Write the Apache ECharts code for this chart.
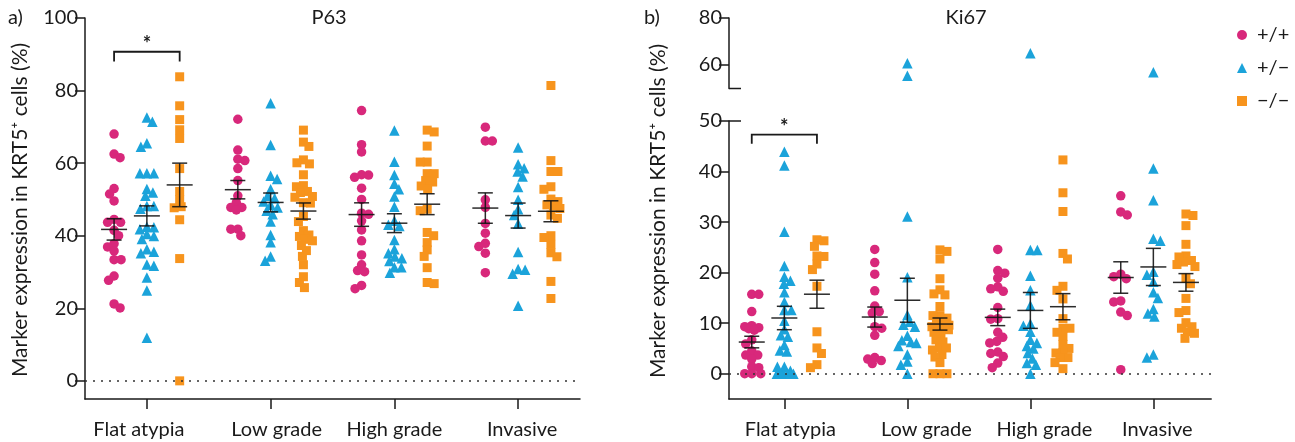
<!DOCTYPE html>
<html><head><meta charset="utf-8">
<script src="https://cdn.jsdelivr.net/npm/echarts@6/dist/echarts.min.js"></script>
<style>html,body{margin:0;padding:0;background:#fff}#c{width:1295px;height:442px}</style>
</head><body><div id="c"></div>
<script>
// ---------- DATA ----------
const categories = ['Flat atypia', 'Low grade', 'High grade', 'Invasive'];
const genotypes = ['+/+', '+/\u2212', '\u2212/\u2212'];
const panelTitles = ['P63', 'Ki67'];
const panelLetters = ['a)', 'b)'];
const yAxisTitle = 'Marker expression in KRT5\u207A cells (%)';
const p63Ticks = [0, 20, 40, 60, 80, 100];
const ki67LowTicks = [0, 10, 20, 30, 40, 50];
const ki67HighTicks = [60, 80];

// P63 values per category (Flat atypia, Low grade, High grade, Invasive)
const p63PP = [
  [68.0, 62.5, 61.5, 53.0, 51.5, 49.6, 44.5, 43.7, 43.7, 41.5, 40.0, 37.8, 36.9, 35.8, 33.4, 33.4, 28.9, 27.7, 21.2, 20.1],
  [72.1, 63.6, 61.1, 60.7, 58.5, 55.2, 51.0, 49.1, 47.8, 47.8, 47.1, 41.8, 41.8, 40.0],
  [74.5, 65.1, 63.1, 56.8, 56.7, 56.1, 53.1, 50.0, 46.2, 45.9, 44.1, 41.6, 38.6, 34.7, 32.0, 30.4, 30.1, 26.3, 25.4],
  [69.9, 66.1, 66.1, 49.9, 47.8, 43.4, 40.7, 37.9, 37.0, 35.2, 29.8]
];
const p63PM = [
  [72.6, 71.4, 65.5, 64.5, 57.2, 57.2, 57.2, 52.9, 51.9, 51.0, 48.2, 48.2, 47.4, 42.5, 42.3, 41.8, 40.5, 39.9, 39.1, 36.3, 35.6, 35.2, 32.1, 31.7, 28.5, 24.9, 11.9],
  [76.5, 65.0, 56.5, 55.6, 52.8, 51.0, 50.3, 49.4, 48.5, 47.8, 46.9, 45.9, 43.9, 40.2, 38.2, 34.3, 33.1],
  [69.0, 60.4, 56.7, 54.3, 52.8, 50.8, 48.0, 44.1, 43.0, 42.7, 38.8, 36.3, 35.2, 34.3, 33.8, 33.0, 31.3, 31.3, 29.8],
  [64.3, 59.7, 58.6, 57.7, 56.3, 53.4, 49.9, 47.3, 45.7, 43.3, 35.5, 30.8, 30.6, 29.5, 20.7]
];
const p63MM = [
  [83.8, 75.8, 72.0, 69.2, 66.8, 58.5, 52.2, 49.9, 48.0, 47.7, 44.4, 33.7, 0.0],
  [69.1, 65.8, 64.6, 60.9, 60.1, 59.8, 56.8, 53.8, 53.5, 52.2, 51.9, 50.8, 50.6, 49.1, 49.0, 45.3, 43.9, 41.4, 40.2, 39.8, 39.0, 38.6, 37.3, 35.9, 34.3, 32.0, 28.7, 27.1, 25.7],
  [69.1, 68.6, 64.7, 60.3, 60.3, 57.1, 57.1, 55.2, 54.8, 53.7, 52.8, 47.3, 46.9, 40.9, 40.0, 38.1, 36.1, 34.3, 31.2, 27.1, 26.8],
  [81.4, 60.7, 57.7, 57.7, 53.5, 52.8, 50.1, 49.4, 48.5, 48.2, 47.5, 45.7, 44.8, 40.0, 39.5, 37.6, 35.3, 34.2, 27.4, 22.7]
];
// Ki67 values per category
const ki67PP = [
  [15.7, 15.7, 12.3, 9.5, 9.3, 9.1, 8.9, 8.6, 6.7, 5.9, 4.5, 3.7, 3.7, 2.9, 1.4, 1.2, 0, 0, 0],
  [24.6, 22.0, 19.7, 16.4, 13.4, 12.3, 12.0, 9.3, 9.0, 7.6, 3.2, 2.9, 2.6, 2.0],
  [24.6, 20.4, 19.9, 18.9, 17.2, 16.8, 16.3, 13.1, 10.9, 10.8, 8.2, 7.2, 6.4, 6.1, 4.3, 4.0, 3.4, 2.1, 1.2],
  [35.2, 32.0, 31.4, 19.7, 19.2, 18.8, 14.4, 14.2, 12.2, 11.5, 0.8]
];
const ki67PM = [
  [43.9, 41.2, 28.1, 21.3, 19.2, 18.4, 17.8, 16.1, 14.2, 12.6, 12.6, 10.5, 8.8, 7.6, 7.3, 5.7, 4.6, 4.4, 1.4, 1.4, 0.6, 0, 0, 0, 0, 0, 0],
  [60.7, 55.4, 31.1, 19.1, 11.6, 10.3, 9.7, 9.3, 7.5, 6.6, 6.3, 6.1, 5.5, 3.8, 2.4, 1.8, 0],
  [65.0, 24.5, 24.5, 19.4, 16.5, 13.5, 9.9, 9.5, 8.3, 6.7, 6.1, 5.5, 5.0, 4.1, 3.0, 2.1, 1.8, 0],
  [56.9, 40.6, 34.3, 26.7, 26.3, 20.2, 19.6, 18.2, 16.1, 15.0, 12.8, 11.9, 11.3, 3.8, 3.2]
];
const ki67MM = [
  [26.5, 26.3, 25.2, 23.3, 23.2, 21.7, 20.6, 17.3, 8.3, 5.1, 4.0, 1.8, 1.2],
  [24.5, 24.2, 22.7, 18.8, 16.6, 15.8, 15.6, 13.3, 11.5, 11.5, 11.0, 10.4, 10.1, 9.6, 9.3, 9.0, 9.0, 8.7, 8.2, 7.7, 6.7, 6.3, 5.1, 5.1, 4.7, 3.8, 3.3, 2.2, 0, 0, 0],
  [42.3, 35.8, 32.1, 23.8, 22.7, 17.3, 16.5, 14.8, 10.9, 9.0, 9.0, 8.2, 7.4, 5.8, 5.0, 4.2, 4.1, 3.2, 3.2, 2.2, 1.0],
  [31.6, 31.3, 29.3, 25.6, 23.3, 23.1, 22.4, 22.1, 21.6, 21.2, 18.9, 17.8, 14.9, 12.5, 12.1, 10.1, 9.3, 9.0, 8.3, 8.0, 7.0]
];
// significance: [panel, category, genotypeFrom, genotypeTo, bracketTop, legEnd, label]
const sigP63 = [0, 0, 0, 2, 90.7, 88.0, '*'];
const sigKi67 = [1, 0, 0, 2, 47.3, 45.5, '*'];

// ---------- STYLE ----------
const FONT = 'Lato, "Noto Sans", sans-serif';
const TXT = '#1a1a1a';
const COLORS = ['#D8287B', '#1BA3DA', '#F7941D'];
const SYMBOLS = ['circle', 'triangle', 'rect'];
const SYMSIZE = [9.5, 10.5, 9];
const OFF = [-0.265, 0, 0.265];
const LABEL_SHIFT = [[-8, 6, 0, 4], [6, 19, 14, 4]];   // px nudges of category labels

const chart = echarts.init(document.getElementById('c'), null, {renderer: 'canvas'});

function xAxisDef(grid, show, min, max) {
  return {
    gridIndex: grid, type: 'value', min: min, max: max, show: show,
    axisLine: {show: true, onZero: false, lineStyle: {color: TXT, width: 1.5}},
    axisTick: {show: true, length: 10, customValues: [1, 2, 3, 4], lineStyle: {color: TXT, width: 1.5}},
    axisLabel: {show: false},
    splitLine: {show: false}
  };
}
function yAxisDef(grid, min, max, ticks) {
  return {
    gridIndex: grid, type: 'value', min: min, max: max,
    axisLine: {show: true, onZero: false, lineStyle: {color: TXT, width: 1.5}},
    axisTick: {show: true, length: 10, customValues: ticks, lineStyle: {color: TXT, width: 1.5}},
    axisLabel: {show: true, customValues: ticks, margin: 7, fontSize: 20, fontFamily: FONT, color: TXT},
    splitLine: {show: false}
  };
}

const RMIN = 0.55, RMAX = 4.47;
const baseOption = {
  animation: false,
  backgroundColor: '#fff',
  grid: [
    {left: 85, top: 18, width: 495, height: 381},
    {left: 729, top: 18, width: 123 * (RMAX - RMIN), height: 70.5},
    {left: 729, top: 121, width: 123 * (RMAX - RMIN), height: 278}
  ],
  xAxis: [xAxisDef(0, true, 0.5, 4.5), xAxisDef(1, false, RMIN, RMAX), xAxisDef(2, true, RMIN, RMAX)],
  yAxis: [yAxisDef(0, -5, 100, p63Ticks), yAxisDef(1, 50, 80, ki67HighTicks), yAxisDef(2, -5, 50, ki67LowTicks)]
};
chart.setOption(baseOption);

// ---------- layout of points (beeswarm in pixel space, via the chart scales) ----------
function swarm(pts, D, W) {
  const order = pts.map((p, i) => i).sort((a, b) => pts[a].py - pts[b].py);
  const placed = [];
  let flip = 1;
  order.forEach(i => {
    const p = pts[i];
    const minDist = dx => placed.reduce((m, q) => {
      const dy = q.py - p.py, ddx = q.dx - dx;
      return Math.min(m, Math.sqrt(ddx * ddx + dy * dy));
    }, Infinity);
    let best = null;
    if (minDist(0) >= D) best = 0;
    else {
      for (let d = 0.5; d <= W; d += 0.5) {
        if (minDist(flip * d) >= D) { best = flip * d; break; }
        if (minDist(-flip * d) >= D) { best = -flip * d; break; }
      }
      if (best === null) {
        let bd = -1;
        for (let d = -W; d <= W; d += 0.5) {
          const md = minDist(d);
          if (md > bd + 0.01) { bd = md; best = d; }
        }
      }
      flip = -flip;
    }
    p.dx = best;
    placed.push(p);
  });
}

const panels = [
  {data: [p63PP, p63PM, p63MM], grids: [{xi: 0, yi: 0, lo: -Infinity, hi: Infinity}], errAxis: 0},
  {data: [ki67PP, ki67PM, ki67MM], grids: [{xi: 2, yi: 2, lo: -Infinity, hi: 50}, {xi: 1, yi: 1, lo: 50, hi: Infinity}], errAxis: 2}
];

const series = [];
panels.forEach((panel, p) => {
  const errData = [];
  panel.data.forEach((byCat, g) => {
    const buckets = panel.grids.map(() => []);
    byCat.forEach((vals, c) => {
      const cx = c + 1 + OFF[g];
      const pts = vals.map(v => {
        const gi = panel.grids.findIndex(gr => v >= gr.lo && v < gr.hi);
        const gr = panel.grids[gi];
        const px = chart.convertToPixel({xAxisIndex: gr.xi, yAxisIndex: gr.yi}, [cx, v]);
        return {v, gi, gr, px: px[0], py: px[1], dx: 0};
      });
      swarm(pts, 7, 9);
      pts.forEach(pt => {
        const xv = chart.convertFromPixel({xAxisIndex: pt.gr.xi, yAxisIndex: pt.gr.yi}, [pt.px + pt.dx, pt.py])[0];
        buckets[pt.gi].push([xv, pt.v]);
      });
      const n = vals.length;
      const mean = vals.reduce((a, b) => a + b, 0) / n;
      const sd = Math.sqrt(vals.reduce((a, b) => a + (b - mean) * (b - mean), 0) / (n - 1));
      errData.push([cx, mean, sd / Math.sqrt(n)]);
    });
    panel.grids.forEach((gr, gi) => {
      const s = {
        type: 'scatter', name: genotypes[g], xAxisIndex: gr.xi, yAxisIndex: gr.yi,
        symbol: SYMBOLS[g], symbolSize: SYMSIZE[g],
        itemStyle: {color: COLORS[g], opacity: 1},
        emphasis: {disabled: true}, z: 2,
        data: buckets[gi]
      };
      if (g === 0 && gi === 0) {
        s.markLine = {
          silent: true, symbol: 'none', label: {show: false},
          lineStyle: {color: '#333', type: [2, 6], width: 1.5},
          emphasis: {disabled: true},
          data: [{yAxis: 0}]
        };
      }
      series.push(s);
    });
  });
  // mean ± SEM
  series.push({
    type: 'custom', xAxisIndex: panel.errAxis, yAxisIndex: panel.errAxis, z: 5, silent: true,
    encode: {x: 0, y: 1},
    data: errData,
    renderItem: (params, api) => {
      const x = api.value(0), m = api.value(1), s = api.value(2);
      const c = api.coord([x, m]), t = api.coord([x, m + s]), b = api.coord([x, m - s]);
      const st = {stroke: 'rgba(20,20,20,0.9)', lineWidth: 1.5};
      return {type: 'group', children: [
        {type: 'line', shape: {x1: c[0] - 13, y1: c[1], x2: c[0] + 13, y2: c[1]}, style: st},
        {type: 'line', shape: {x1: t[0], y1: t[1], x2: b[0], y2: b[1]}, style: st},
        {type: 'line', shape: {x1: t[0] - 7.5, y1: t[1], x2: t[0] + 7.5, y2: t[1]}, style: st},
        {type: 'line', shape: {x1: b[0] - 7.5, y1: b[1], x2: b[0] + 7.5, y2: b[1]}, style: st}
      ]};
    }
  });
});

// significance brackets
[sigP63, sigKi67].forEach(sg => {
  const ax = panels[sg[0]].errAxis;
  const xl = sg[1] + 1 + OFF[sg[2]], xr = sg[1] + 1 + OFF[sg[3]];
  series.push({
    type: 'custom', xAxisIndex: ax, yAxisIndex: ax, z: 6, silent: true,
    encode: {x: [0, 1], y: [2, 3]},
    data: [[xl, xr, sg[4], sg[5], sg[6]]],
    renderItem: (params, api) => {
      const a = api.coord([api.value(0), api.value(2)]);
      const b = api.coord([api.value(1), api.value(2)]);
      const lb = api.coord([api.value(0), api.value(3)]);
      return {type: 'group', children: [
        {type: 'polyline', shape: {points: [[a[0], lb[1]], [a[0], a[1]], [b[0], b[1]], [b[0], lb[1]]]},
          style: {stroke: TXT, lineWidth: 1.8, fill: null}},
        {type: 'text', x: (a[0] + b[0]) / 2, y: a[1] - 7,
          style: {text: sg[6], fontSize: 20, fontWeight: 'bold', fontFamily: FONT, fill: TXT, align: 'center', verticalAlign: 'middle'}}
      ]};
    }
  });
});

// axis-break caps and category labels computed from the axes
const capTop = chart.convertToPixel({xAxisIndex: 1, yAxisIndex: 1}, [RMIN, 50]);
const capBot = chart.convertToPixel({xAxisIndex: 2, yAxisIndex: 2}, [RMIN, 50]);
const capStyle = {stroke: TXT, lineWidth: 1.5};

const catLabels = [];
[[0, 0], [2, 2]].forEach(([xi, yi], p) => {
  categories.forEach((name, c) => {
    const pt = chart.convertToPixel({xAxisIndex: xi, yAxisIndex: yi}, [c + 1, -5]);
    catLabels.push({type: 'text', x: pt[0] + LABEL_SHIFT[p][c], y: pt[1] + 31,
      style: {text: name, fontSize: 20, fontFamily: FONT, fill: TXT, align: 'center', verticalAlign: 'middle'}});
  });
});

chart.setOption({
  legend: {
    orient: 'vertical', left: 1232, top: 20, itemWidth: 10, itemHeight: 10, itemGap: 13,
    selectedMode: false,
    textStyle: {fontSize: 20, fontFamily: FONT, color: TXT, padding: [0, 0, 0, 5]},
    data: genotypes.map((n, i) => ({name: n, icon: SYMBOLS[i]}))
  },
  series: series,
  graphic: catLabels.concat([
    {type: 'text', x: 8, y: 18, style: {text: panelLetters[0], fontSize: 20, fontFamily: FONT, fill: TXT, align: 'left', verticalAlign: 'middle'}},
    {type: 'text', x: 644, y: 18, style: {text: panelLetters[1], fontSize: 20, fontFamily: FONT, fill: TXT, align: 'left', verticalAlign: 'middle'}},
    {type: 'text', x: 329, y: 18, style: {text: panelTitles[0], fontSize: 20, fontFamily: FONT, fill: TXT, align: 'center', verticalAlign: 'middle'}},
    {type: 'text', x: 966, y: 18, style: {text: panelTitles[1], fontSize: 20, fontFamily: FONT, fill: TXT, align: 'center', verticalAlign: 'middle'}},
    {type: 'text', x: 20, y: 210, rotation: Math.PI / 2, style: {text: yAxisTitle, fontSize: 21, fontFamily: FONT, fill: TXT, align: 'center', verticalAlign: 'middle'}},
    {type: 'text', x: 658, y: 211, rotation: Math.PI / 2, style: {text: yAxisTitle, fontSize: 21, fontFamily: FONT, fill: TXT, align: 'center', verticalAlign: 'middle'}},
    {type: 'line', shape: {x1: capTop[0], y1: capTop[1], x2: capTop[0] + 12, y2: capTop[1]}, style: capStyle},
    {type: 'line', shape: {x1: capBot[0], y1: capBot[1], x2: capBot[0] + 12, y2: capBot[1]}, style: capStyle}
  ])
});
</script></body></html>
